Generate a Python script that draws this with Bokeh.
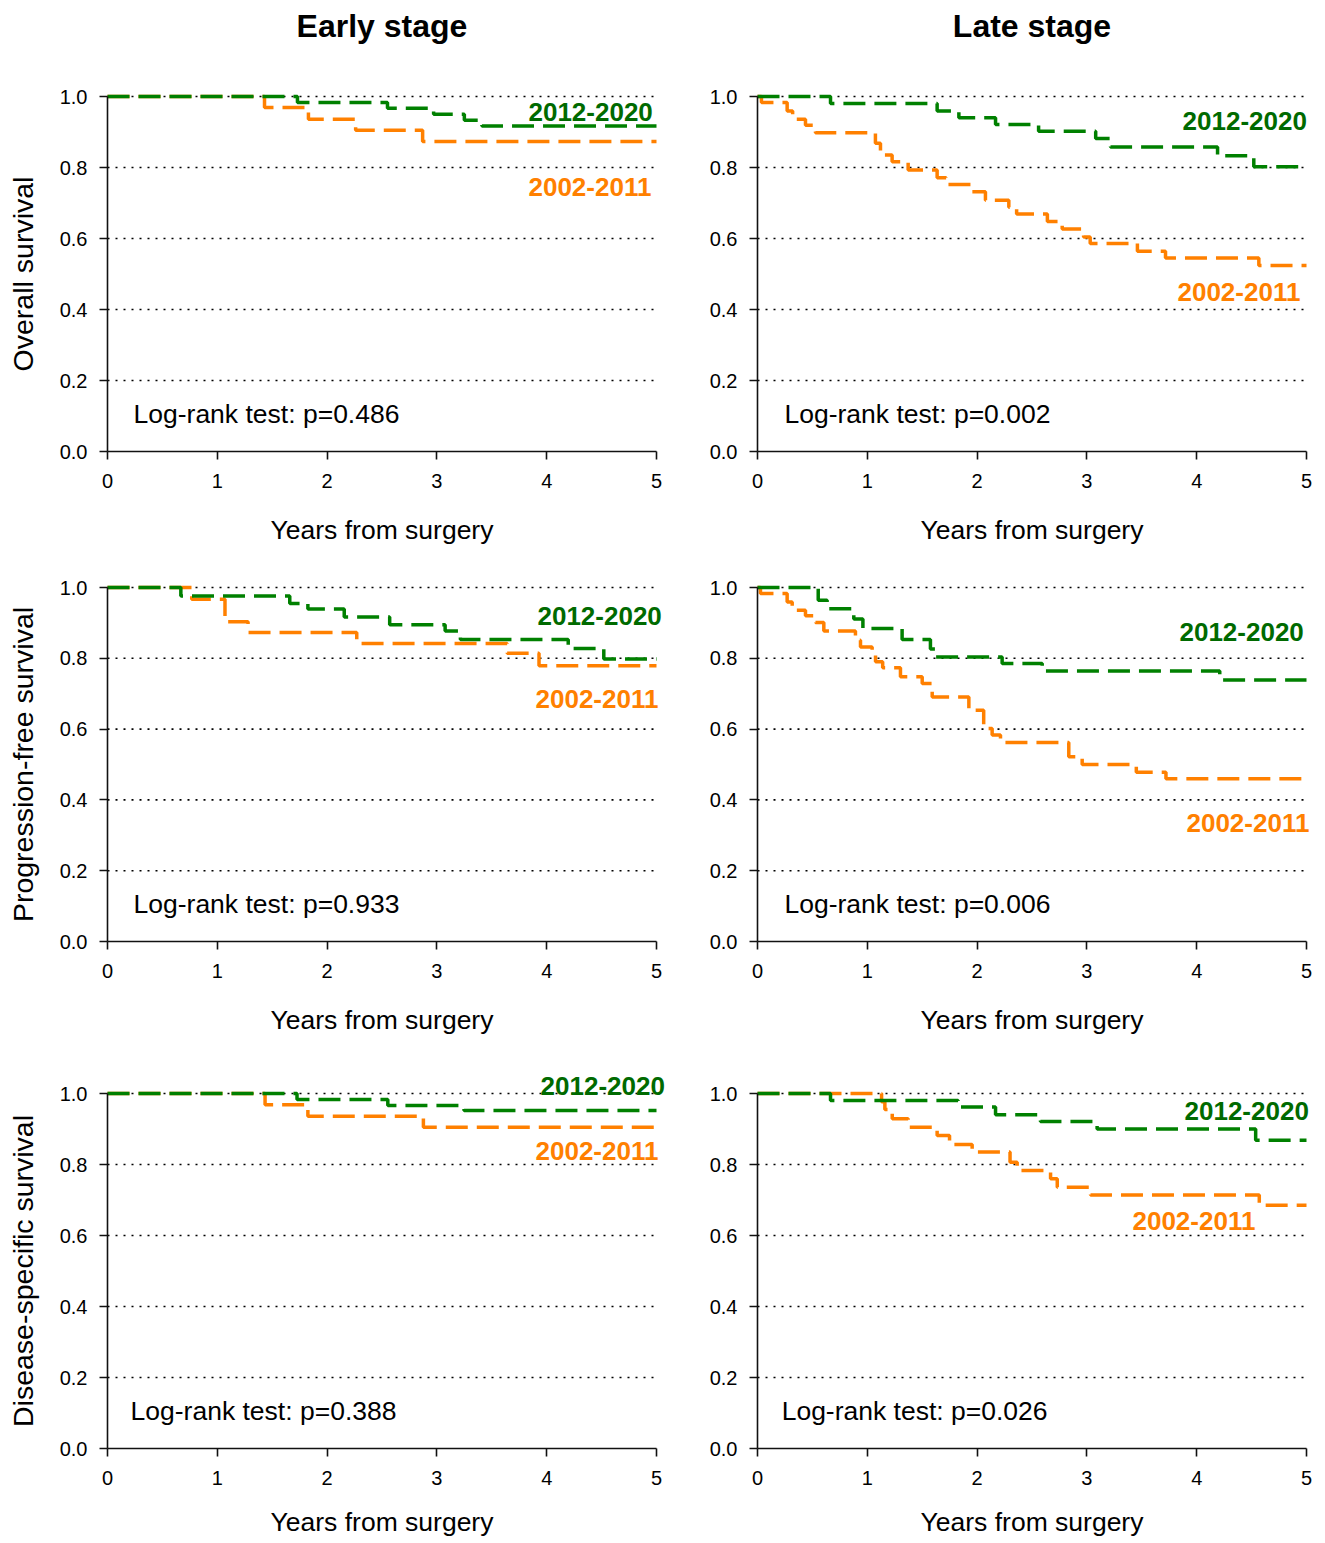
import math
from bokeh.plotting import figure
from bokeh.models import Range1d, FixedTicker, PrintfTickFormatter, Label, LinearAxis
from bokeh.layouts import column, row
from bokeh.embed import file_html
from bokeh.resources import INLINE

FONT = "Liberation Sans"
GREEN = "#008000"
GREEN_TXT = "#006a00"
ORANGE = "#ff8000"

# ---------------- data (years, survival probability) ----------------
# Overall survival, early stage
os_early_old_t = [1.43, 1.83, 2.26, 2.87]
os_early_old_s = [0.969, 0.936, 0.905, 0.873]
os_early_new_t = [1.73, 2.55, 2.97, 3.25, 3.41]
os_early_new_s = [0.983, 0.967, 0.950, 0.933, 0.917]
# Overall survival, late stage
os_late_old_t = [0.036, 0.27, 0.32, 0.437, 0.528, 1.074, 1.12, 1.226, 1.372, 1.636, 1.718,
                 1.955, 2.076, 2.289, 2.36, 2.64, 2.775, 2.97, 3.03, 3.46, 3.716, 4.566]
os_late_old_s = [0.983, 0.959, 0.936, 0.919, 0.898, 0.868, 0.835, 0.816, 0.793, 0.771, 0.752,
                 0.732, 0.708, 0.688, 0.669, 0.648, 0.627, 0.604, 0.586, 0.564, 0.545, 0.524]
os_late_new_t = [0.665, 1.636, 1.834, 2.168, 2.56, 3.08, 3.215, 4.19, 4.52]
os_late_new_s = [0.980, 0.959, 0.940, 0.921, 0.902, 0.882, 0.858, 0.833, 0.802]
# Progression-free survival, early stage
pfs_early_old_t = [0.767, 1.07, 1.28, 2.27, 3.64, 3.93]
pfs_early_old_s = [0.967, 0.903, 0.873, 0.842, 0.814, 0.779]
pfs_early_new_t = [0.668, 1.66, 1.825, 2.156, 2.57, 3.075, 3.214, 4.196, 4.52]
pfs_early_new_s = [0.976, 0.955, 0.939, 0.917, 0.895, 0.877, 0.853, 0.828, 0.798]
# Progression-free survival, late stage
pfs_late_old_t = [0.027, 0.27, 0.316, 0.437, 0.528, 0.604, 0.892, 0.938, 1.044, 1.075, 1.14,
                  1.302, 1.5, 1.591, 1.925, 2.06, 2.137, 2.213, 2.835, 2.957, 3.45, 3.72]
pfs_late_old_s = [0.983, 0.959, 0.936, 0.920, 0.901, 0.877, 0.851, 0.832, 0.809, 0.790, 0.773,
                  0.748, 0.729, 0.691, 0.653, 0.602, 0.583, 0.562, 0.522, 0.500, 0.478, 0.460]
pfs_late_new_t = [0.553, 0.634, 0.877, 0.96, 1.317, 1.575, 1.62, 2.228, 2.593, 4.21]
pfs_late_new_s = [0.964, 0.940, 0.911, 0.884, 0.853, 0.826, 0.804, 0.785, 0.764, 0.739]
# Disease-specific survival, early stage
dss_early_old_t = [1.435, 1.825, 2.877]
dss_early_old_s = [0.968, 0.936, 0.905]
dss_early_new_t = [1.726, 2.553, 3.247]
dss_early_new_s = [0.983, 0.966, 0.952]
# Disease-specific survival, late stage
dss_late_old_t = [1.13, 1.16, 1.227, 1.372, 1.636, 1.749, 1.955, 2.3, 2.365, 2.669, 2.73, 3.033, 4.57]
dss_late_old_s = [0.977, 0.955, 0.929, 0.905, 0.882, 0.856, 0.835, 0.806, 0.783, 0.760, 0.736, 0.714, 0.685]
dss_late_new_t = [0.665, 1.827, 2.168, 2.577, 3.093, 4.537]
dss_late_new_s = [0.980, 0.962, 0.940, 0.921, 0.900, 0.868]

groups = ["2002-2011", "2012-2020"]
col_titles = ["Early stage", "Late stage"]
row_ylabels = ["Overall survival", "Progression-free survival", "Disease-specific survival"]
logrank_p = [["0.486", "0.002"], ["0.933", "0.006"], ["0.388", "0.026"]]
x_ticks = [0, 1, 2, 3, 4, 5]
y_ticks = [0.0, 0.2, 0.4, 0.6, 0.8, 1.0]
x_label = "Years from surgery"
follow_up = 5

curves = [
    [((os_early_old_t, os_early_old_s), (os_early_new_t, os_early_new_s)),
     ((os_late_old_t, os_late_old_s), (os_late_new_t, os_late_new_s))],
    [((pfs_early_old_t, pfs_early_old_s), (pfs_early_new_t, pfs_early_new_s)),
     ((pfs_late_old_t, pfs_late_old_s), (pfs_late_new_t, pfs_late_new_s))],
    [((dss_early_old_t, dss_early_old_s), (dss_early_new_t, dss_early_new_s)),
     ((dss_late_old_t, dss_late_old_s), (dss_late_new_t, dss_late_new_s))],
]

# --------------- text placement (data coordinates of each panel) ---------------
label_pos = [
    [((3.834, 0.744), (3.834, 0.955)), ((3.825, 0.448), (3.871, 0.930))],
    [((3.898, 0.685), (3.916, 0.919)), ((3.907, 0.335), (3.843, 0.874))],
    [((3.898, 0.837), (3.944, 1.020)), ((3.415, 0.642), (3.889, 0.952))],
]
logrank_pos = [[(0.237, 0.107), (0.246, 0.107)],
               [(0.237, 0.105), (0.246, 0.105)],
               [(0.21, 0.107), (0.22, 0.107)]]
title_y = 1.2
xlabel_y = [-0.2225, -0.223, -0.208]
ylabel_x = -0.774

# --------------- page geometry (pixels) ---------------
col_tile = [(0, 700), (700, 1325)]          # canvas left/right edges
col_axis_px = [(107, 656), (757, 1306)]     # page x of t=0 and t=5
row_tile = [(0, 552), (552, 1058), (1058, 1543)]   # canvas top/bottom edges
row_axis_px = [(451, 96), (941, 587), (1448, 1093)]  # page y of S=0 and S=1


def step_xy(t, s):
    xs = [0] + list(t) + [follow_up]
    ys = [1.0] + list(s) + [s[-1]]
    return xs, ys


def make_panel(r, c):
    left, right = col_tile[c]
    top, bottom = row_tile[r]
    x0, x5 = col_axis_px[c]
    y0, y1 = row_axis_px[r]
    ux = (x5 - x0) / follow_up
    uy = (y0 - y1)
    xr = Range1d((left - x0) / ux, (right - x0) / ux)
    yr = Range1d((y0 - bottom) / uy, (y0 - top) / uy)

    p = figure(width=right - left, height=bottom - top, output_backend="svg",
               toolbar_location=None, x_range=xr, y_range=yr, title=None,
               x_axis_location=None, y_axis_location=None,
               min_border=0, min_border_left=0, min_border_right=0,
               min_border_top=0, min_border_bottom=0)
    p.outline_line_color = None
    p.background_fill_color = "white"
    p.border_fill_color = "white"
    p.xgrid.visible = False
    p.ygrid.visible = False

    # dotted reference lines limited to the follow-up window
    p.multi_line(xs=[[0, follow_up] for _ in y_ticks[1:]], ys=[[v, v] for v in y_ticks[1:]],
                 line_color="black", line_dash="2 6", line_width=1.6)

    xaxis = LinearAxis(fixed_location=0, ticker=FixedTicker(ticks=x_ticks), bounds=(0, follow_up))
    yaxis = LinearAxis(fixed_location=0, ticker=FixedTicker(ticks=y_ticks), bounds=(0, 1),
                       formatter=PrintfTickFormatter(format="%.1f"))
    for ax in (xaxis, yaxis):
        ax.axis_line_color = "#111111"
        ax.axis_line_width = 1.6
        ax.major_tick_line_color = "#111111"
        ax.major_tick_line_width = 1.6
        ax.major_tick_out = 8
        ax.major_tick_in = 0
        ax.minor_tick_line_color = None
        ax.major_label_text_font = FONT
        ax.major_label_text_font_size = "20px"
        ax.major_label_text_color = "black"
    xaxis.major_label_standoff = 14
    yaxis.major_label_standoff = 12
    p.add_layout(xaxis, "below")
    p.add_layout(yaxis, "left")

    (old, new) = curves[r][c]
    for (t, s), color in ((old, ORANGE), (new, GREEN)):
        xs, ys = step_xy(t, s)
        p.step(xs, ys, mode="after", line_color=color, line_width=3.5, line_dash="22 9")

    (po, pn) = label_pos[r][c]
    p.add_layout(Label(x=po[0], y=po[1], text=groups[0], text_font=FONT, text_font_style="bold",
                       text_font_size="26px", text_color=ORANGE, text_baseline="middle"))
    p.add_layout(Label(x=pn[0], y=pn[1], text=groups[1], text_font=FONT, text_font_style="bold",
                       text_font_size="26px", text_color=GREEN_TXT, text_baseline="middle"))

    lx, ly = logrank_pos[r][c]
    p.add_layout(Label(x=lx, y=ly, text="Log-rank test: p=" + logrank_p[r][c], text_font=FONT,
                       text_font_size="26.5px", text_color="black", text_baseline="middle"))

    p.add_layout(Label(x=follow_up / 2, y=xlabel_y[r], text=x_label, text_font=FONT,
                       text_font_size="26.5px", text_color="black", text_align="center",
                       text_baseline="middle"))
    if c == 0:
        p.add_layout(Label(x=ylabel_x, y=0.5, text=row_ylabels[r], angle=math.pi / 2,
                           text_font=FONT, text_font_size="28.5px", text_color="black",
                           text_align="center", text_baseline="middle"))
    if r == 0:
        p.add_layout(Label(x=follow_up / 2, y=title_y, text=col_titles[c], text_font=FONT,
                           text_font_size="32px", text_font_style="bold", text_color="black",
                           text_align="center", text_baseline="middle"))
    return p


rows = [row(*[make_panel(r, c) for c in range(2)]) for r in range(3)]
layout = column(*rows)

open("out.html", "w").write(file_html(layout, INLINE))
